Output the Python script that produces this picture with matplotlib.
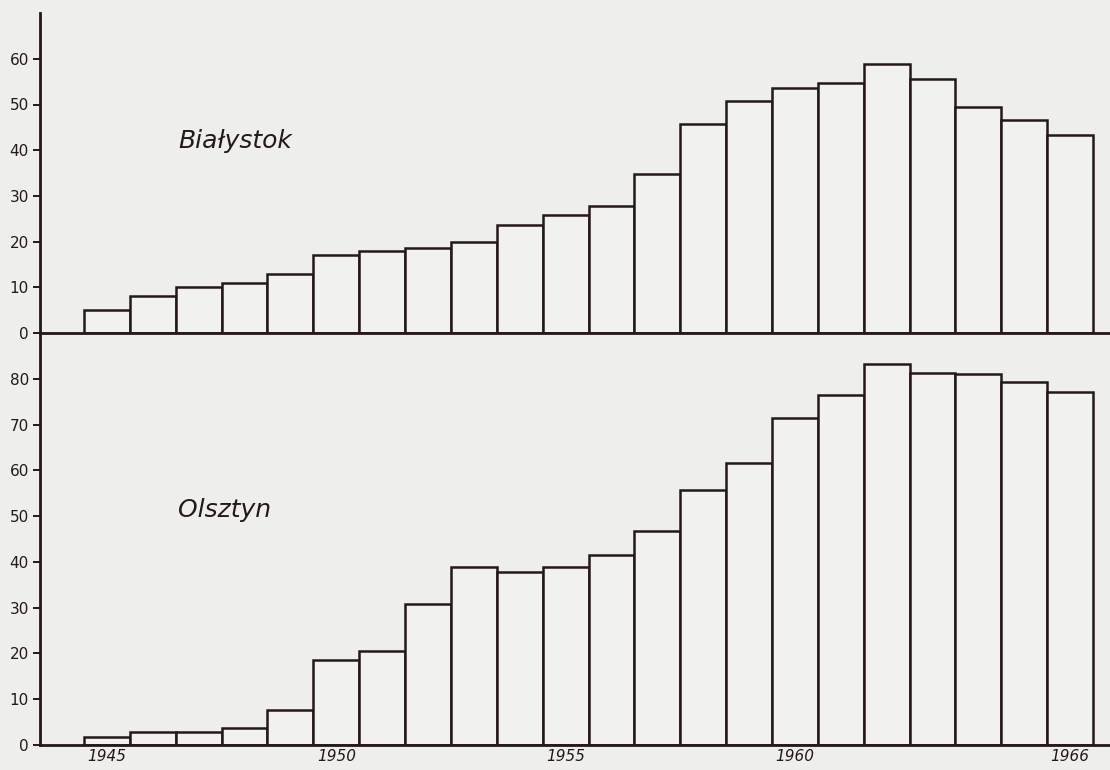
import matplotlib.pyplot as plt

# years on the shared x axis
years = list(range(1945, 1967))

# Białystok (top panel)
bialystok = [5, 8, 10, 11, 13, 17, 18, 18.7, 20, 23.7, 25.8,
             27.7, 34.7, 45.8, 50.7, 53.6, 54.7, 58.9, 55.6, 49.5, 46.6, 43.3]

# Olsztyn (bottom panel)
olsztyn = [1.8, 2.8, 2.8, 3.8, 7.6, 18.5, 20.5, 30.7, 38.8, 37.8, 38.8,
           41.6, 46.7, 55.7, 61.5, 71.5, 76.4, 83.2, 81.3, 81.1, 79.2, 77.2]

year_ticks = [1945, 1950, 1955, 1960, 1966]
top_ticks = [0, 10, 20, 30, 40, 50, 60]
bottom_ticks = [0, 10, 20, 30, 40, 50, 60, 70, 80]

paper = '#eeeeec'
ink = '#241818'

fig = plt.figure(figsize=(11.1, 7.7), dpi=100, facecolor=paper)

ax1 = fig.add_axes([0.036, 0.5675, 0.964, 0.4155])
ax2 = fig.add_axes([0.036, 0.0325, 0.964, 0.535])
ax1.set_zorder(3)  # keep the shared baseline on top of the lower panel


def style(ax, series, ylim, yticks, label, label_y):
    ax.set_facecolor(paper)
    ax.patch.set_alpha(0)
    ax.bar(years, series, width=1.0, facecolor='#f1f1ef', edgecolor=ink,
           linewidth=1.8, zorder=2)
    ax.set_xlim(1943.54, 1966.87)
    ax.set_ylim(*ylim)
    ax.set_yticks(yticks)
    ax.set_yticklabels([str(t) for t in yticks], fontsize=11, color=ink)
    ax.tick_params(axis='y', direction='out', length=5, width=1.4,
                   color=ink, pad=3)
    for side in ['top', 'right']:
        ax.spines[side].set_visible(False)
    for side in ['left', 'bottom']:
        ax.spines[side].set_color(ink)
        ax.spines[side].set_linewidth(2.0)
    ax.text(0.129, label_y, label, transform=ax.transAxes, fontsize=18,
            style='italic', color=ink, ha='left', va='baseline')


style(ax1, bialystok, (0, 70), top_ticks, 'Białystok', 0.578)
ax1.set_xticks([])

style(ax2, olsztyn, (0, 90), bottom_ticks, 'Olsztyn', 0.553)
ax2.set_xticks(year_ticks)
ax2.set_xticklabels([str(y) for y in year_ticks], fontsize=11,
                    style='italic', color=ink)
ax2.tick_params(axis='x', length=0, pad=3)

fig.savefig('out.png', dpi=100, facecolor=paper)
